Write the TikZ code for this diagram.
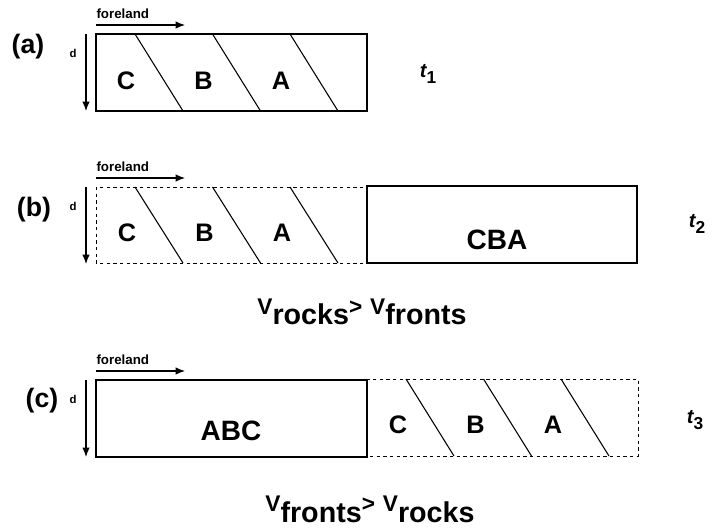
\documentclass[tikz,border=0pt]{standalone}
\usepackage{fontspec}
\setmainfont{Liberation Sans}
\usetikzlibrary{arrows.meta}

\newcommand{\velo}[1]{\raisebox{8pt}{\fontsize{17}{18}\selectfont V}#1}
\newcommand{\grt}{\raisebox{8pt}{\fontsize{17}{18}\selectfont >}}

\begin{document}
\begin{tikzpicture}[x=0.75pt,y=-0.75pt,>={Latex[length=7pt,width=5.5pt]},
                    line width=0.8pt]
  \tikzset{
    lbl/.style={font=\bfseries\fontsize{19}{21}\selectfont},
    biglbl/.style={font=\bfseries\fontsize{21}{23}\selectfont},
    panel/.style={font=\bfseries\fontsize{20}{22}\selectfont},
    fore/.style={font=\bfseries\fontsize{10}{11}\selectfont, anchor=west, inner sep=0pt},
    depth/.style={font=\bfseries\fontsize{8.5}{9}\selectfont, inner sep=0pt},
    time/.style={font=\bfseries\fontsize{15}{16}\selectfont},
    head/.style={font=\bfseries\fontsize{21.5}{23}\selectfont, anchor=base},
    dashbox/.style={dash pattern=on 2.5pt off 2.5pt, line width=0.7pt}
  }
  \useasboundingbox (0,0) rectangle (717,530);

  % foreland and depth arrows
  \foreach \p/\ty in {a/34, b/187, c/380} {
    \node[fore] (\p-fore) at (96,\ty-20) {foreland};
    \coordinate (\p-fl) at (96,\ty-9);
    \coordinate (\p-fr) at (185,\ty-9);
    \draw[->] (\p-fl) -- (\p-fr);
    \node[depth] (\p-d) at (73,\ty+19) {d};
    \coordinate (\p-dt) at (86,\ty);
    \coordinate (\p-db) at (86,\ty+77);
    \draw[->] (\p-dt) -- (\p-db);
  }

  % (a)
  \node[panel] (pa) at (28,47) {(a)};
  \draw (96,34) rectangle (367,111);
  \foreach \i in {0,1,2}
    \draw (135+77.5*\i,34) -- (183+77.5*\i,111);
  \node[lbl] (a-C) at (126,81) {C};
  \node[lbl] (a-B) at (203.5,81) {B};
  \node[lbl] (a-A) at (281,81) {A};
  \node[time] (t1) at (428,74) {\itshape t\raisebox{-5pt}{\upshape\fontsize{13}{14}\selectfont 1}};

  % (b)
  \node[panel] (pb) at (34,210) {(b)};
  \draw[dashbox] (96,187) rectangle (367,263);
  \foreach \i in {0,1,2}
    \draw (135+77.5*\i,187) -- (183+77.5*\i,263);
  \node[lbl] (b-C) at (127,233) {C};
  \node[lbl] (b-B) at (204.5,233) {B};
  \node[lbl] (b-A) at (282,233) {A};
  \draw (367,186) rectangle (637,263);
  \node[biglbl] (b-CBA) at (497,240) {CBA};
  \node[time] (t2) at (697,224) {\itshape t\raisebox{-5pt}{\upshape\fontsize{13}{14}\selectfont 2}};

  \node[head] (vrf) at (362,325) {\velo{rocks}\grt{} \velo{fronts}};

  % (c)
  \node[panel] (pc) at (42,401) {(c)};
  \draw (96,380) rectangle (367,457);
  \node[biglbl] (c-ABC) at (231,431) {ABC};
  \draw[dashbox] (367,379) rectangle (638,456);
  \foreach \i in {0,1,2}
    \draw (406+77.5*\i,379) -- (454+77.5*\i,456);
  \node[lbl] (c-C) at (398,425) {C};
  \node[lbl] (c-B) at (475.5,425) {B};
  \node[lbl] (c-A) at (553,425) {A};
  \node[time] (t3) at (695,420) {\itshape t\raisebox{-5pt}{\upshape\fontsize{13}{14}\selectfont 3}};

  \node[head] (vfr) at (370,522) {\velo{fronts}\grt{} \velo{rocks}};
\end{tikzpicture}
\end{document}
